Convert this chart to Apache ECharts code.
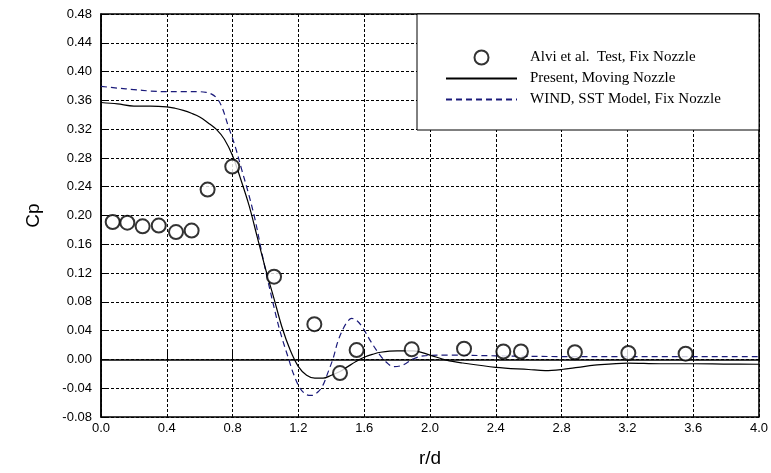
<!DOCTYPE html>
<html>
<head>
<meta charset="utf-8">
<script src="https://cdn.jsdelivr.net/npm/echarts@6/dist/echarts.min.js"></script>
<style>html,body{margin:0;padding:0;background:#fff}#c{width:771px;height:473px}</style>
</head>
<body>
<div id="c"></div>
<script>
// Experimental data: Alvi et al. Test, Fix Nozzle
const testX = [0.071, 0.16, 0.253, 0.351, 0.456, 0.551, 0.648, 0.798, 1.052, 1.297, 1.453, 1.554, 1.889, 2.207, 2.446, 2.553, 2.881, 3.206, 3.554];
const testY = [0.191, 0.19, 0.185, 0.186, 0.177, 0.179, 0.236, 0.268, 0.115, 0.049, -0.019, 0.013, 0.014, 0.015, 0.011, 0.011, 0.010, 0.009, 0.008];

// Present, Moving Nozzle
const presentX = [0, 0.1, 0.2, 0.3, 0.4, 0.45, 0.5, 0.55, 0.6, 0.65, 0.7, 0.75, 0.8, 0.85, 0.9, 0.95, 1.0, 1.05, 1.1, 1.15, 1.2, 1.25, 1.3, 1.35, 1.4, 1.45, 1.5, 1.55, 1.6, 1.65, 1.7, 1.8, 1.9, 2.0, 2.1, 2.2, 2.4, 2.6, 2.7, 2.8, 2.9, 3.0, 3.2, 3.4, 3.6, 3.8, 4.0];
const presentY = [0.357, 0.355, 0.352, 0.352, 0.351, 0.349, 0.346, 0.342, 0.337, 0.329, 0.320, 0.306, 0.283, 0.250, 0.214, 0.170, 0.126, 0.086, 0.045, 0.013, -0.010, -0.022, -0.026, -0.026, -0.022, -0.017, -0.010, -0.003, 0.003, 0.007, 0.010, 0.012, 0.012, 0.006, -0.001, -0.005, -0.011, -0.014, -0.0155, -0.014, -0.011, -0.008, -0.005, -0.006, -0.006, -0.0065, -0.0067];

// WIND, SST Model, Fix Nozzle
const windX = [0, 0.1, 0.2, 0.3, 0.4, 0.5, 0.6, 0.64, 0.67, 0.7, 0.733, 0.774, 0.815, 0.855, 0.895, 0.936, 0.977, 1.007, 1.068, 1.1, 1.139, 1.17, 1.21, 1.25, 1.281, 1.32, 1.351, 1.38, 1.412, 1.44, 1.473, 1.5, 1.524, 1.56, 1.594, 1.64, 1.696, 1.74, 1.777, 1.82, 1.858, 1.9, 1.96, 2.1, 2.4, 2.8, 4.0];
const windY = [0.3795, 0.377, 0.375, 0.373, 0.372, 0.372, 0.372, 0.371, 0.369, 0.364, 0.352, 0.324, 0.2965, 0.264, 0.232, 0.195, 0.149, 0.117, 0.057, 0.030, 0.002, -0.020, -0.040, -0.049, -0.050, -0.045, -0.035, -0.018, 0.002, 0.025, 0.043, 0.053, 0.057, 0.053, 0.043, 0.025, 0.006, -0.005, -0.010, -0.009, -0.005, 0.001, 0.005, 0.006, 0.005, 0.004, 0.004];

const seriesNames = ['Alvi et al.  Test, Fix Nozzle', 'Present, Moving Nozzle', 'WIND, SST Model, Fix Nozzle'];

const zip = (xs, ys) => xs.map((x, i) => [x, ys[i]]);

const chart = echarts.init(document.getElementById('c'), null, {renderer: 'canvas'});
chart.setOption({
  animation: false,
  backgroundColor: '#fff',
  grid: {left: 101, right: 12, top: 14, bottom: 54, show: true, borderColor: '#000', borderWidth: 1.5, backgroundColor: 'transparent'},
  xAxis: {
    type: 'value', min: 0, max: 4, interval: 0.4,
    name: 'r/d', nameLocation: 'middle', nameGap: 32,
    nameTextStyle: {fontFamily: 'Liberation Sans', fontSize: 19, color: '#000'},
    axisLine: {show: true, lineStyle: {color: '#000', width: 1.5}},
    axisTick: {show: true, inside: true, length: 8, lineStyle: {color: '#000', width: 1}},
    axisLabel: {fontFamily: 'Liberation Sans', fontSize: 13, color: '#000', margin: 5, formatter: v => v.toFixed(1)},
    splitLine: {show: true, lineStyle: {color: '#000', width: 1, type: [3, 2]}}
  },
  yAxis: {
    type: 'value', min: -0.08, max: 0.48, interval: 0.04,
    name: 'Cp', nameLocation: 'middle', nameGap: 58, nameRotate: 90,
    nameTextStyle: {fontFamily: 'Liberation Sans', fontSize: 19, color: '#000'},
    axisLine: {show: true, lineStyle: {color: '#000', width: 1.5}},
    axisTick: {show: true, inside: true, length: 8, lineStyle: {color: '#000', width: 1}},
    axisLabel: {fontFamily: 'Liberation Sans', fontSize: 13, color: '#000', margin: 9, formatter: v => v.toFixed(2)},
    splitLine: {show: true, lineStyle: {color: '#000', width: 1, type: [3, 2]}}
  },
  legend: {
    show: true,
    orient: 'vertical',
    right: 12, top: 14,
    data: [
      {name: seriesNames[0]},
      {name: seriesNames[1], itemStyle: {opacity: 0}},
      {name: seriesNames[2], itemStyle: {opacity: 0}}
    ],
    backgroundColor: '#fff',
    borderColor: '#000', borderWidth: 1,
    borderRadius: 0,
    padding: [33, 18, 20, 28],
    itemWidth: 71, itemHeight: 14, itemGap: 0,
    textStyle: {fontFamily: 'Liberation Serif', fontSize: 15, color: '#000', lineHeight: 21, width: 211, padding: [0, 0, 0, 8]},
    selectedMode: false
  },
  series: [
    {
      name: seriesNames[0], type: 'scatter', data: zip(testX, testY),
      symbol: 'emptyCircle', symbolSize: 14,
      itemStyle: {color: '#000', borderColor: '#000', borderWidth: 1.2},
      z: 5
    },
    {
      name: seriesNames[1], type: 'line', data: zip(presentX, presentY),
      symbol: 'none', smooth: 0.35,
      lineStyle: {color: '#000', width: 1.2, type: 'solid'},
      itemStyle: {color: '#000'},
      z: 4
    },
    {
      name: seriesNames[2], type: 'line', data: zip(windX, windY),
      symbol: 'none', smooth: 0.35,
      lineStyle: {color: '#1a1a7a', width: 1.2, type: [6, 4]},
      itemStyle: {color: '#1a1a7a'},
      z: 3
    }
  ]
});
</script>
</body>
</html>
